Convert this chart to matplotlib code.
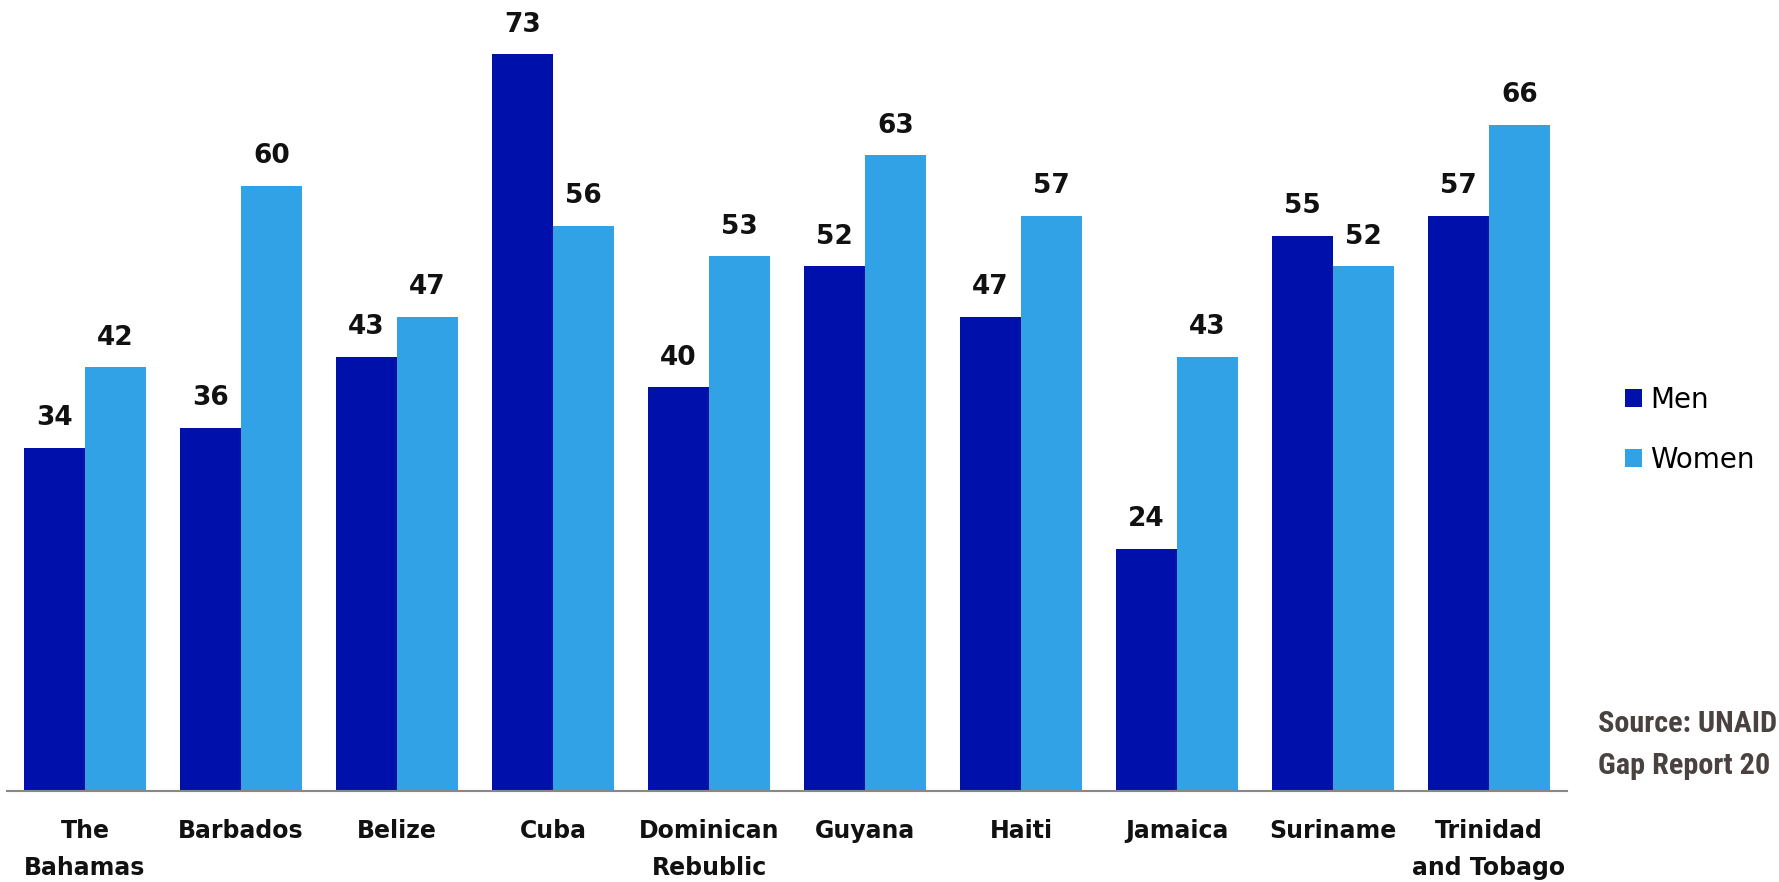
import matplotlib
matplotlib.use("Agg")
import matplotlib.pyplot as plt
from matplotlib import font_manager
import numpy as np

categories = ["The\nBahamas", "Barbados", "Belize", "Cuba", "Dominican\nRebublic",
              "Guyana", "Haiti", "Jamaica", "Suriname", "Trinidad\nand Tobago"]
men = [34, 36, 43, 73, 40, 52, 47, 24, 55, 57]
women = [42, 60, 47, 56, 53, 63, 57, 43, 52, 66]
series_names = ["Men", "Women"]
colors = ["#0010AA", "#31A2E6"]
source_lines = ["Source: UNAID", "Gap Report 20"]

W, H = 1779, 882
fig = plt.figure(figsize=(W / 100, H / 100), dpi=100)
ax = fig.add_axes([7 / W, (H - 791) / H, (1567 - 7) / W, 791 / H])

x = np.arange(len(categories))
bw = 0.39
b1 = ax.bar(x - bw / 2, men, bw, color=colors[0], label=series_names[0])
b2 = ax.bar(x + bw / 2, women, bw, color=colors[1], label=series_names[1])

for bars, vals in ((b1, men), (b2, women)):
    for r, v in zip(bars, vals):
        ax.annotate(str(v), (r.get_x() + r.get_width() / 2, v), xytext=(0, 12),
                    textcoords="offset points", ha="center", va="bottom",
                    fontsize=19, fontweight="bold", family="DejaVu Sans", color="#111111")

ax.set_xlim(-0.5, len(categories) - 0.5)
ax.set_ylim(0, 78.4)
ax.set_xticks(x)
ax.set_xticklabels(categories, fontsize=17, fontweight="bold", family="DejaVu Sans",
                   color="#111111", linespacing=1.72, va="top")
ax.tick_params(axis="x", length=0, pad=20)
ax.set_yticks([])
for s in ("top", "right", "left"):
    ax.spines[s].set_visible(False)
ax.spines["bottom"].set_color("#888888")
ax.spines["bottom"].set_linewidth(1.5)

fig.legend(handles=[b1, b2], labels=series_names, loc="upper left",
           bbox_to_anchor=(1600 / W, 1 - 361 / H), frameon=False,
           prop={"family": "DejaVu Sans", "size": 20}, handlelength=0.6,
           handleheight=0.6, handletextpad=0.3, labelspacing=1.15)

names = {f.name for f in font_manager.fontManager.ttflist}
src_family = "DejaVu Sans"
for cand in ["Liberation Sans Narrow", "DejaVu Sans Condensed", "Roboto Condensed",
             "Open Sans Condensed", "Noto Sans Condensed"]:
    if cand in names:
        src_family = cand
        break

x0 = 1598
src = fig.text(x0 / W, 1 - 745 / H, "\n".join(source_lines), ha="left", va="center",
               fontsize=26, fontweight="bold", family=src_family,
               color="#4a4240", linespacing=1.6)
fig.canvas.draw()
r = fig.canvas.get_renderer()
bb = src.get_window_extent(r)
avail = W - x0 - 2
if bb.width > avail:
    src.set_fontsize(26 * avail / bb.width)

fig.savefig("out.png", dpi=100, facecolor="white")
